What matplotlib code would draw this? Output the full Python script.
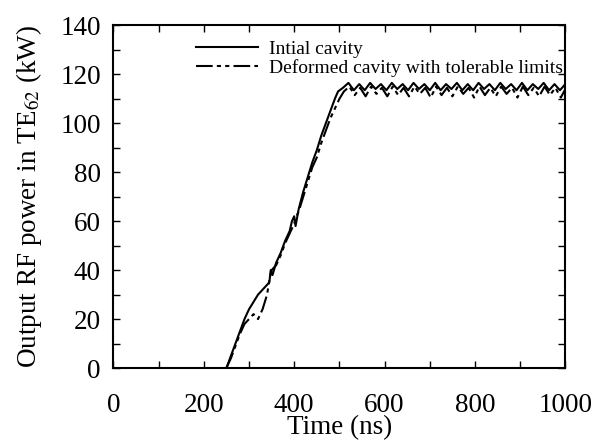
import numpy as np
import matplotlib
matplotlib.use('Agg')
import matplotlib.pyplot as plt
from matplotlib.ticker import MultipleLocator

plt.rcParams['font.family'] = ['Liberation Serif', 'DejaVu Serif']
plt.rcParams['mathtext.fontset'] = 'stix'

# Initial cavity
time_init = [250, 260, 270, 280, 290, 300, 310, 320, 330, 340, 345, 348, 352, 360, 370,
             380, 390, 395, 400, 403, 410, 420, 430, 440, 450, 460, 470, 480, 490, 497,
             508, 520, 532, 544, 556, 568, 580, 592, 604, 616, 628, 640, 652, 664, 676,
             688, 700, 712, 724, 736, 748, 760, 772, 784, 796, 808, 820, 832, 844, 856,
             868, 880, 892, 904, 916, 928, 940, 952, 964, 976, 988, 1000]
power_init = [0, 5, 10, 15, 20, 24, 27, 30, 32, 34, 35, 40, 38, 43, 47,
              52, 56, 60, 62, 58, 65, 72, 78, 84, 89, 95, 100, 105, 110, 113,
              114.5, 116.5, 113.5, 116, 113.5, 116.5, 114, 116, 113.5, 116.5, 114, 116, 113.5,
              116.5, 114, 116, 113.5, 116.5, 113.5, 116, 114, 116.5, 113.5, 116, 113.5, 116.5,
              114, 116, 113.5, 116.5, 114, 116, 113.5, 116.5, 113.5, 116, 114, 116.5, 113.5,
              116, 113.5, 116]

# Deformed cavity with tolerable limits
time_def = [250, 260, 270, 280, 290, 300, 310, 320, 330, 340, 345, 350, 360, 370, 380,
            390, 400, 405, 410, 420, 430, 440, 450, 460, 470, 480, 490, 500, 510,
            522, 534, 546, 558, 570, 582, 594, 606, 618, 630, 642, 654, 666, 678,
            690, 702, 714, 726, 738, 750, 762, 774, 786, 798, 810, 822, 834, 846, 858,
            870, 882, 894, 906, 918, 930, 942, 954, 966, 978, 990, 1000]
power_def = [0, 4, 9, 14, 18, 20, 22, 20, 24, 30, 36, 40, 42, 46, 51,
             55, 59, 62, 64, 70, 76, 82, 86, 92, 97, 102, 106, 110, 113,
             115, 111.5, 114.5, 111, 115, 112, 114.5, 111, 115, 111.5, 114.5, 111, 115,
             112, 114.5, 110.5, 115, 111.5, 114.5, 111, 115, 112, 114.5, 110.5, 115,
             111.5, 114.5, 111, 115, 112, 114.5, 110.5, 115, 111.5, 114.5, 111, 115,
             111.5, 114.5, 110.5, 114]

fig = plt.figure(figsize=(5.97, 4.45), dpi=100)
ax = fig.add_axes([0.19, 0.173, 0.757, 0.77])

ax.plot(time_init, power_init, color='black', linewidth=1.5, label='Intial cavity')
ax.plot(time_def, power_def, color='black', linewidth=1.5, dashes=(8, 2, 2, 2, 2, 2),
        label='Deformed cavity with tolerable limits')

ax.set_xlim(0, 1000)
ax.set_ylim(0, 140)
ax.xaxis.set_major_locator(MultipleLocator(200))
ax.xaxis.set_minor_locator(MultipleLocator(100))
ax.yaxis.set_major_locator(MultipleLocator(20))
ax.yaxis.set_minor_locator(MultipleLocator(10))
ax.tick_params(which='both', direction='in', top=True, right=True, labelsize=19.5, width=1,
               length=5)
ax.tick_params(axis='x', pad=18)
ax.tick_params(axis='y', pad=9)
for s in ax.spines.values():
    s.set_linewidth(1.5)

ax.set_xlabel('Time (ns)', fontsize=19.5, labelpad=-2)
ax.set_ylabel('Output RF power in TE$_{62}$ (kW)', fontsize=19.5, labelpad=12)

ax.legend(loc='upper left', bbox_to_anchor=(0.15, 1.0), frameon=False, fontsize=14,
          handlelength=3.2, handletextpad=0.57, labelspacing=0.08, borderaxespad=0.35)

fig.savefig('out.png', dpi=100)
